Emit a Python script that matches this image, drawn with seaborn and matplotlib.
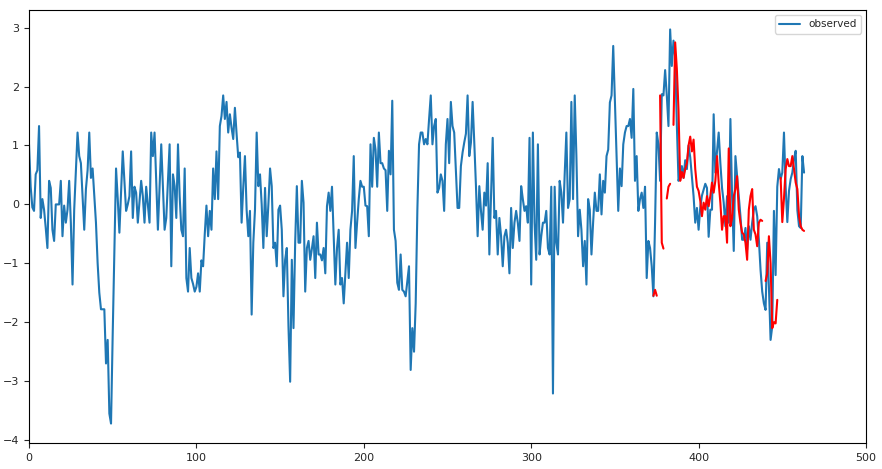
import numpy as np
import pandas as pd
import matplotlib
matplotlib.use("Agg")
import matplotlib.pyplot as plt
import seaborn as sns

observed = [
 1.02, 0.3, -0.05, -0.11, 0.51, 0.58, 1.33, -0.23, 0.09, -0.09,
 -0.4, -0.74, 0.40, 0.28, -0.43, -0.62, 0.0, 0.0, 0.0, 0.40,
 -0.54, -0.02, -0.31, -0.09, 0.40, -0.31, -1.36, -0.09, 0.58, 1.22,
 0.82, 0.70, 0.14, -0.43, 0.26, 0.58, 1.22, 0.45, 0.61, 0.14,
 -0.31, -1.0, -1.5, -1.78, -1.78, -1.78, -2.70, -2.30, -3.55, -3.72,
 -2.2, -0.8, 0.61, 0.1, -0.48, 0.2, 0.90, 0.4, -0.11, 0.0,
 0.14, 0.90, -0.23, 0.30, 0.20, -0.31, 0.05, 0.40, 0.14, -0.31,
 0.30, 0.0, -0.31, 1.22, 0.82, 1.22, 0.4, -0.43, 0.3, 1.02,
 0.3, -0.43, -0.23, 0.4, 1.02, -1.05, 0.51, 0.31, -0.23, 1.02,
 0.14, -0.43, -0.54, 0.61, -1.25, -1.48, -0.74, -1.25, -1.35, -1.48,
 -1.4, -1.17, -1.48, -0.95, -1.05, -0.5, -0.02, -0.54, -0.11, -0.43,
 0.61, 0.09, 0.90, 0.09, 1.33, 1.5, 1.85, 1.45, 1.74, 1.22,
 1.53, 1.3, 1.11, 1.64, 1.2, 0.80, 0.88, -0.31, 0.3, 0.82,
 -0.09, -0.54, -0.11, -1.87, -0.65, -0.09, 1.22, 0.31, 0.51, 0.0,
 -0.74, 0.28, -0.54, 0.0, 0.61, 0.31, -0.74, -0.65, -1.05, -0.09,
 -0.02, -0.43, -1.56, -0.94, -0.74, -2.07, -3.01, -0.94, -2.10, -0.65,
 0.31, -0.65, -0.65, 0.40, 0.03, -1.48, -0.74, -0.62, -0.94, -0.75,
 -0.54, -1.25, -0.31, -0.85, -0.85, -0.95, -0.74, -1.17, -0.03, 0.20,
 -0.11, 0.30, -0.54, -1.36, -0.74, -0.43, -1.36, -1.25, -1.68, -1.17,
 -0.65, -1.25, -0.43, -0.11, 0.82, -0.74, -0.31, 0.09, 0.40, 0.30,
 0.30, -0.02, -0.03, -0.54, 1.02, 0.30, 1.13, 0.93, 0.30, 1.22,
 0.70, 0.70, 0.61, 0.58, -0.11, 0.91, 0.51, 1.76, -0.43, -0.62,
 -1.33, -1.45, -0.85, -1.45, -1.48, -1.56, -1.31, -1.05, -2.81, -2.10,
 -2.50, -1.68, -0.09, 1.02, 1.22, 1.22, 1.02, 1.11, 1.02, 1.45,
 1.85, 1.02, 1.33, 1.45, 0.20, 0.28, 0.51, 0.40, -0.11, 1.02,
 1.45, 0.70, 1.74, 1.33, 1.22, 0.58, -0.06, -0.06, 0.65, 0.88,
 1.05, 1.2, 1.85, 0.82, 1.05, 1.74, 1.05, 0.31, -0.54, 0.31,
 -0.11, -0.43, 0.20, -0.02, 0.70, -0.85, 0.14, 1.13, -0.23, -0.11,
 -0.85, -0.23, -0.54, -1.05, -0.54, -0.43, -0.65, -1.17, -0.06, -0.74,
 -0.31, -0.11, -0.31, -0.62, 0.31, 0.09, -0.11, -0.03, -0.31, 1.13,
 -1.36, 1.22, -0.31, -0.94, 1.02, -0.85, -0.54, -0.31, -0.31, -0.11,
 -0.74, -0.85, 0.30, -3.21, 0.30, -0.65, -0.85, 0.40, 0.20, -0.31,
 0.51, 1.22, -0.06, 0.09, 1.74, 0.09, 1.85, 0.82, -0.54, -0.09,
 -0.43, -1.05, -0.62, -1.36, 0.09, -0.09, -0.85, -0.3, 0.20, -0.11,
 -0.11, 0.51, -0.17, 0.40, 0.20, 0.82, 0.93, 1.73, 1.85, 2.69,
 1.76, 0.82, -0.11, 0.61, 0.31, 1.02, 1.22, 1.33, 1.33, 1.45,
 1.13, 1.96, 0.40, 0.82, -0.11, 0.09, 0.20, -0.06, 0.30, -1.25,
 -0.62, -0.74, -1.05, -1.56, -0.3, 1.22, 1.02, 0.4, 1.87, 1.85,
 2.28, 1.85, 1.33, 2.97, 2.35, 2.78, 2.5, 1.35, 0.4, 0.5,
 0.65, 0.45, 0.75, 0.6, 1.0, 0.8, 0.48, 0.14, -0.31, -0.06,
 -0.43, -0.05, 0.15, 0.25, 0.35, 0.28, -0.55, -0.09, -0.09, 1.53,
 0.54, 0.9, 1.22, 0.7, 0.28, 0.03, -0.37, 0.14, -0.31, 1.45,
 0.14, -0.79, 0.82, 0.48, 0.14, -0.2, -0.6, -0.6, -0.4, -0.77,
 -0.37, -0.6, -0.31, -0.09, -0.03, -0.2, -0.6, -1.11, -1.48, -1.68,
 -1.79, -0.65, -1.4, -2.3, -2.07, -0.11, -1.2, 0.3, 0.6, 0.43,
 0.54, 1.22, 0.3, -0.3, 0.23, 0.43, 0.54, 0.77, 0.91, -0.1,
 -0.37, -0.4, 0.82, 0.54,
]

pred_start = 373
predicted = [
 -1.55, -1.45, -1.55, None, 1.85, -0.65, -0.75, None, 0.1, 0.3,
 0.35, None, 1.35, 2.75, 2.3, 1.6, 0.4, 0.55, 0.45, 0.6,
 0.7, 1.0, 1.15, 0.9, 1.1, 0.6, 0.3, 0.23, 0.06, -0.2,
 0.03, -0.09, 0.14, -0.03, 0.14, 0.37, 0.2, 0.4, 0.82, 0.37,
 0.03, -0.43, -0.2, -0.2, -0.65, 0.95, -0.37, -0.23, 0.14, 0.26,
 0.48, -0.09, -0.31, -0.48, -0.51, -0.65, -0.94, -0.09, 0.14, 0.26,
 -0.43, -0.51, -0.71, -0.31, -0.26, -0.28, None, -1.3, -1.17, -0.54,
 -1.0, -2.1, -2.0, -2.02, -1.62, None, 0.45, -0.3, 0.1, 0.6,
 0.77, 0.65, 0.65, 0.82, 0.6, 0.37, 0.26, -0.2, -0.37, -0.43,
 -0.45,
]

obs_df = pd.DataFrame({"t": np.arange(len(observed)), "value": observed})
pred = np.array([np.nan if v is None else v for v in predicted], dtype=float)
pred_df = pd.DataFrame({"t": np.arange(pred_start, pred_start + len(pred)), "value": pred})
pred_df["seg"] = np.isnan(pred_df["value"]).cumsum()
pred_df = pred_df.dropna()

sns.set_style("ticks")
plt.rcParams["font.family"] = ["DejaVu Sans"]
fig = plt.figure(figsize=(8.82, 4.69), dpi=100)
ax = fig.add_axes([29/882, 1-443/469, (866-29)/882, (443-10)/469])

sns.lineplot(data=obs_df, x="t", y="value", ax=ax, color="#1f77b4", linewidth=1.5, label="observed")
sns.lineplot(data=pred_df, x="t", y="value", units="seg", estimator=None, ax=ax,
             color="red", linewidth=1.5, legend=False)

ax.set_xlim(0, 500)
ax.set_ylim(-4.05, 3.3)
ax.set_xticks([0, 100, 200, 300, 400, 500])
ax.set_yticks([-4, -3, -2, -1, 0, 1, 2, 3])
ax.tick_params(labelsize=8, length=3.5)
ax.set_xlabel("")
ax.set_ylabel("")
for s in ax.spines.values():
    s.set_visible(True)
    s.set_color("black")
    s.set_linewidth(0.8)
ax.legend(loc="upper right", fontsize=7.5, frameon=True, handlelength=2.0)
fig.savefig("out.png", dpi=100)
